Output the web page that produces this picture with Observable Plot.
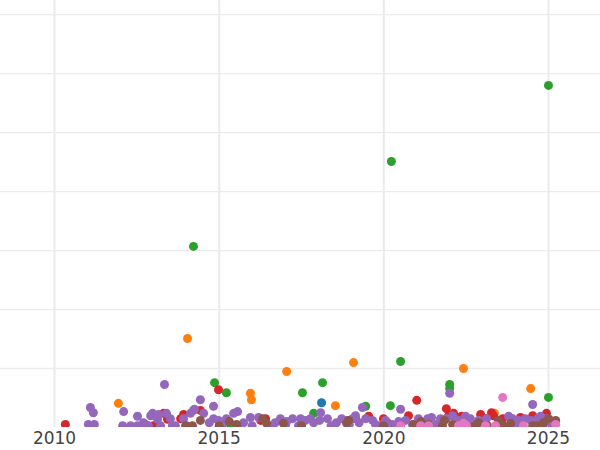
<!DOCTYPE html>
<html>
<head>
<meta charset="utf-8">
<script src="https://cdn.jsdelivr.net/npm/d3@7"></script>
<script src="https://cdn.jsdelivr.net/npm/@observablehq/plot@0.6"></script>
<style>
  html, body { margin: 0; padding: 0; background: #fff; }
</style>
</head>
<body>
<div id="chart"></div>
<script>
const xTicks = [2010, 2015, 2020, 2025];
const yGrid = [1, 2, 3, 4, 5, 6, 7];

const seriesNames = ["A", "B", "C", "D", "E", "F", "G"];
const seriesColors = ["#1f77b4", "#ff7f0e", "#2ca02c", "#d62728", "#9467bd", "#8c564b", "#e377c2"];

const seriesA = [[2018.11, 0.42]];
const seriesB = [[2014.04,1.51],[2019.08,1.10],[2022.42,1.00],[2017.05,0.95],[2024.46,0.66],[2011.94,0.41],[2018.53,0.37],[2015.95,0.58],[2015.98,0.47],[2023.36,0.24]];
const seriesC = [[2025.00,5.80],[2020.23,4.51],[2014.22,3.07],[2020.51,1.12],[2018.14,0.76],[2014.86,0.76],[2022.00,0.73],[2022.00,0.66],[2025.00,0.51],[2017.53,0.59],[2019.45,0.36],[2020.20,0.37],[2015.22,0.59],[2017.87,0.24],[2015.35,0.03]];
const seriesD = [[2010.33,0.05],[2014.98,0.64],[2021.00,0.46],[2021.90,0.32],[2012.76,0.05],[2013.31,0.24],[2013.43,0.14],[2013.83,0.15],[2013.92,0.22],[2014.43,0.29],[2016.26,0.12],[2016.41,0.15],[2019.14,0.15],[2019.54,0.19],[2019.99,0.15],[2020.11,0.08],[2020.45,0.03],[2020.75,0.20],[2021.97,0.20],[2022.12,0.24],[2022.36,0.19],[2022.69,0.07],[2022.94,0.22],[2023.27,0.25],[2023.33,0.20],[2023.61,0.15],[2023.88,0.15],[2024.15,0.17],[2024.52,0.20],[2024.94,0.24],[2025.00,0.12],[2023.09,0.15],[2013.00,0.03]];
const seriesE = [[2013.34,0.73],[2024.52,0.39],[2022.00,0.58],[2011.09,0.34],[2011.18,0.25],[2011.03,0.05],[2011.21,0.05],[2012.10,0.27],[2012.07,0.03],[2012.31,0.03],[2012.52,0.19],[2012.52,0.03],[2012.85,0.03],[2012.92,0.20],[2012.98,0.24],[2013.13,0.14],[2013.16,0.22],[2013.22,0.03],[2013.40,0.24],[2013.52,0.15],[2013.58,0.03],[2013.67,0.03],[2013.92,0.15],[2014.01,0.03],[2014.13,0.24],[2014.22,0.29],[2014.25,0.31],[2014.43,0.47],[2014.53,0.24],[2014.83,0.36],[2014.83,0.15],[2014.98,0.12],[2015.22,0.15],[2015.44,0.24],[2015.56,0.27],[2015.74,0.08],[2015.95,0.17],[2016.20,0.17],[2016.50,0.03],[2016.86,0.15],[2017.02,0.05],[2017.23,0.15],[2017.47,0.15],[2017.41,0.03],[2017.62,0.12],[2017.77,0.15],[2017.87,0.08],[2018.08,0.25],[2018.05,0.12],[2018.29,0.15],[2018.56,0.08],[2018.72,0.15],[2018.87,0.12],[2019.05,0.15],[2019.14,0.20],[2019.35,0.34],[2019.45,0.15],[2019.66,0.12],[2019.90,0.03],[2020.05,0.12],[2020.51,0.31],[2020.45,0.10],[2020.66,0.12],[2020.87,0.05],[2021.05,0.15],[2021.33,0.15],[2021.45,0.17],[2021.72,0.15],[2021.90,0.15],[2022.09,0.20],[2022.27,0.12],[2022.48,0.19],[2022.63,0.15],[2022.88,0.12],[2022.97,0.10],[2023.12,0.15],[2023.79,0.19],[2023.91,0.15],[2024.09,0.12],[2024.30,0.15],[2024.46,0.12],[2024.67,0.15],[2024.76,0.19],[2024.94,0.15],[2025.06,0.12],[2025.12,0.03],[2016.00,0.03],[2017.05,0.10],[2019.75,0.05],[2021.60,0.05],[2023.50,0.08],[2024.20,0.05],[2015.10,0.05],[2015.65,0.03],[2016.70,0.08],[2018.40,0.03],[2018.95,0.05],[2019.25,0.08],[2020.25,0.05],[2022.80,0.05],[2024.00,0.03],[2024.85,0.05],[2012.70,0.08],[2014.70,0.08]];
const seriesF = [[2013.98,0.03],[2014.19,0.03],[2014.43,0.12],[2015.31,0.10],[2015.53,0.05],[2016.32,0.15],[2016.44,0.07],[2016.95,0.07],[2018.87,0.07],[2018.93,0.12],[2019.99,0.03],[2020.90,0.05],[2021.12,0.10],[2021.36,0.05],[2021.78,0.03],[2021.84,0.12],[2022.09,0.05],[2022.39,0.05],[2022.76,0.03],[2022.88,0.08],[2023.15,0.03],[2023.48,0.12],[2023.64,0.03],[2023.85,0.07],[2024.52,0.03],[2024.64,0.03],[2024.85,0.08],[2025.00,0.15],[2025.22,0.12],[2015.00,0.03],[2017.50,0.03]];
const seriesG = [[2023.61,0.51],[2020.51,0.03],[2021.12,0.03],[2021.36,0.03],[2022.27,0.03],[2022.42,0.07],[2022.51,0.03],[2023.09,0.03],[2023.39,0.03],[2024.24,0.03],[2025.22,0.05]];

const allSeries = [seriesA, seriesB, seriesC, seriesD, seriesE, seriesF, seriesG];
const points = allSeries.flatMap((s, i) => s.map(([year, value]) => ({series: seriesNames[i], year, value})));

const chart = Plot.plot({
  width: 600,
  height: 450,
  marginLeft: 0,
  marginRight: 0,
  marginTop: 0,
  marginBottom: 23,
  style: {fontFamily: "DejaVu Sans, sans-serif", fontSize: "17px", color: "#444", background: "#fff", overflow: "visible"},
  x: {domain: [2008.36, 2026.58], label: null},
  y: {domain: [0, 7.24], label: null},
  color: {domain: seriesNames, range: seriesColors},
  marks: [
    Plot.ruleX(xTicks, {stroke: "#ebebeb", strokeWidth: 2}),
    Plot.ruleY(yGrid, {stroke: "#ebebeb", strokeWidth: 1.3}),
    Plot.dot(points, {x: "year", y: "value", fill: "series", r: 4.5, stroke: "none", clip: "frame"}),
    Plot.axisX(xTicks, {tickSize: 0, tickPadding: 4, tickFormat: d => String(d), fill: "#444", fontSize: 17, label: null}),
    Plot.axisY({ticks: [], label: null, tickSize: 0})
  ]
});
document.getElementById("chart").appendChild(chart);
</script>
</body>
</html>
